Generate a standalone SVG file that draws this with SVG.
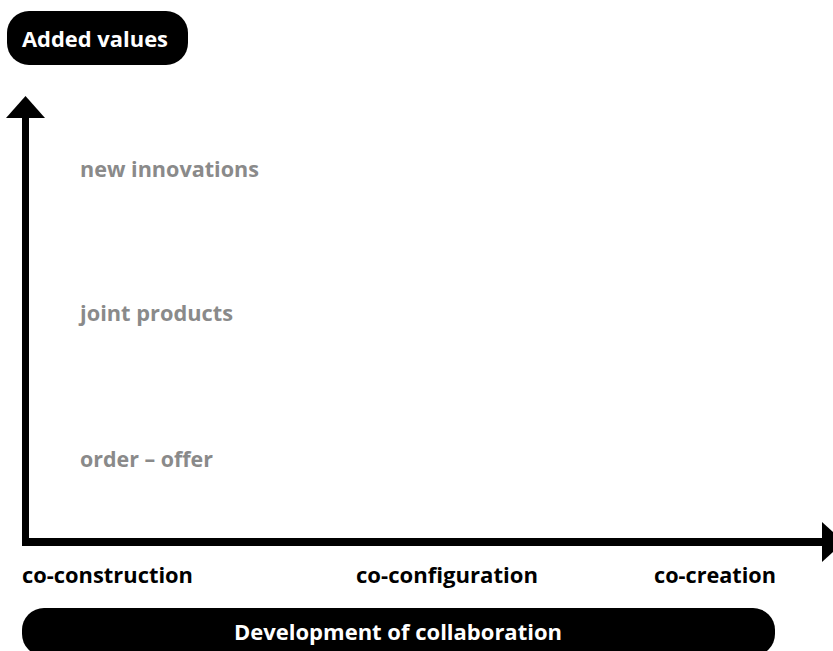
<svg xmlns="http://www.w3.org/2000/svg" width="833" height="651" viewBox="0 0 833 651">
<style>
.pill{fill:#000}
.pt{font-family:"Open Sans","Liberation Sans",Arial,sans-serif;font-weight:bold;font-size:22px;fill:#fff}
.ax{font-family:"Open Sans","Liberation Sans",Arial,sans-serif;font-weight:bold;font-size:22px;fill:#000}
.gy{font-family:"Open Sans","Liberation Sans",Arial,sans-serif;font-weight:bold;font-size:21px;fill:#8a8a8a}
</style>
<rect width="833" height="651" fill="#fff"/>
<g id="added-values">
<rect class="pill" x="7" y="11" width="181" height="54" rx="22"/>
<text class="pt" x="22" y="47" textLength="146" lengthAdjust="spacingAndGlyphs">Added values</text>
</g>
<g id="connectors">
<rect x="22" y="116" width="7" height="430" fill="#000"/>
<polygon points="25.5,96 6,118 45,118" fill="#000"/>
<rect x="22" y="538" width="802" height="8" fill="#000"/>
<polygon points="822,522 822,562 844,542" fill="#000"/>
</g>
<g id="new-innovations"><text class="gy" x="80" y="177" textLength="179" lengthAdjust="spacingAndGlyphs">new innovations</text></g>
<g id="joint-products"><text class="gy" x="80" y="321" textLength="153" lengthAdjust="spacingAndGlyphs">joint products</text></g>
<g id="order-offer"><text class="gy" x="80" y="467" textLength="133" lengthAdjust="spacingAndGlyphs">order – offer</text></g>
<g id="co-construction"><text class="ax" x="22" y="583" textLength="171" lengthAdjust="spacingAndGlyphs">co-construction</text></g>
<g id="co-configuration"><text class="ax" x="356" y="583" textLength="182" lengthAdjust="spacingAndGlyphs">co-configuration</text></g>
<g id="co-creation"><text class="ax" x="654" y="583" textLength="122" lengthAdjust="spacingAndGlyphs">co-creation</text></g>
<g id="development">
<rect class="pill" x="22" y="608" width="753" height="48" rx="22"/>
<text class="pt" x="398" y="640" text-anchor="middle" textLength="328" lengthAdjust="spacingAndGlyphs">Development of collaboration</text>
</g>
</svg>
